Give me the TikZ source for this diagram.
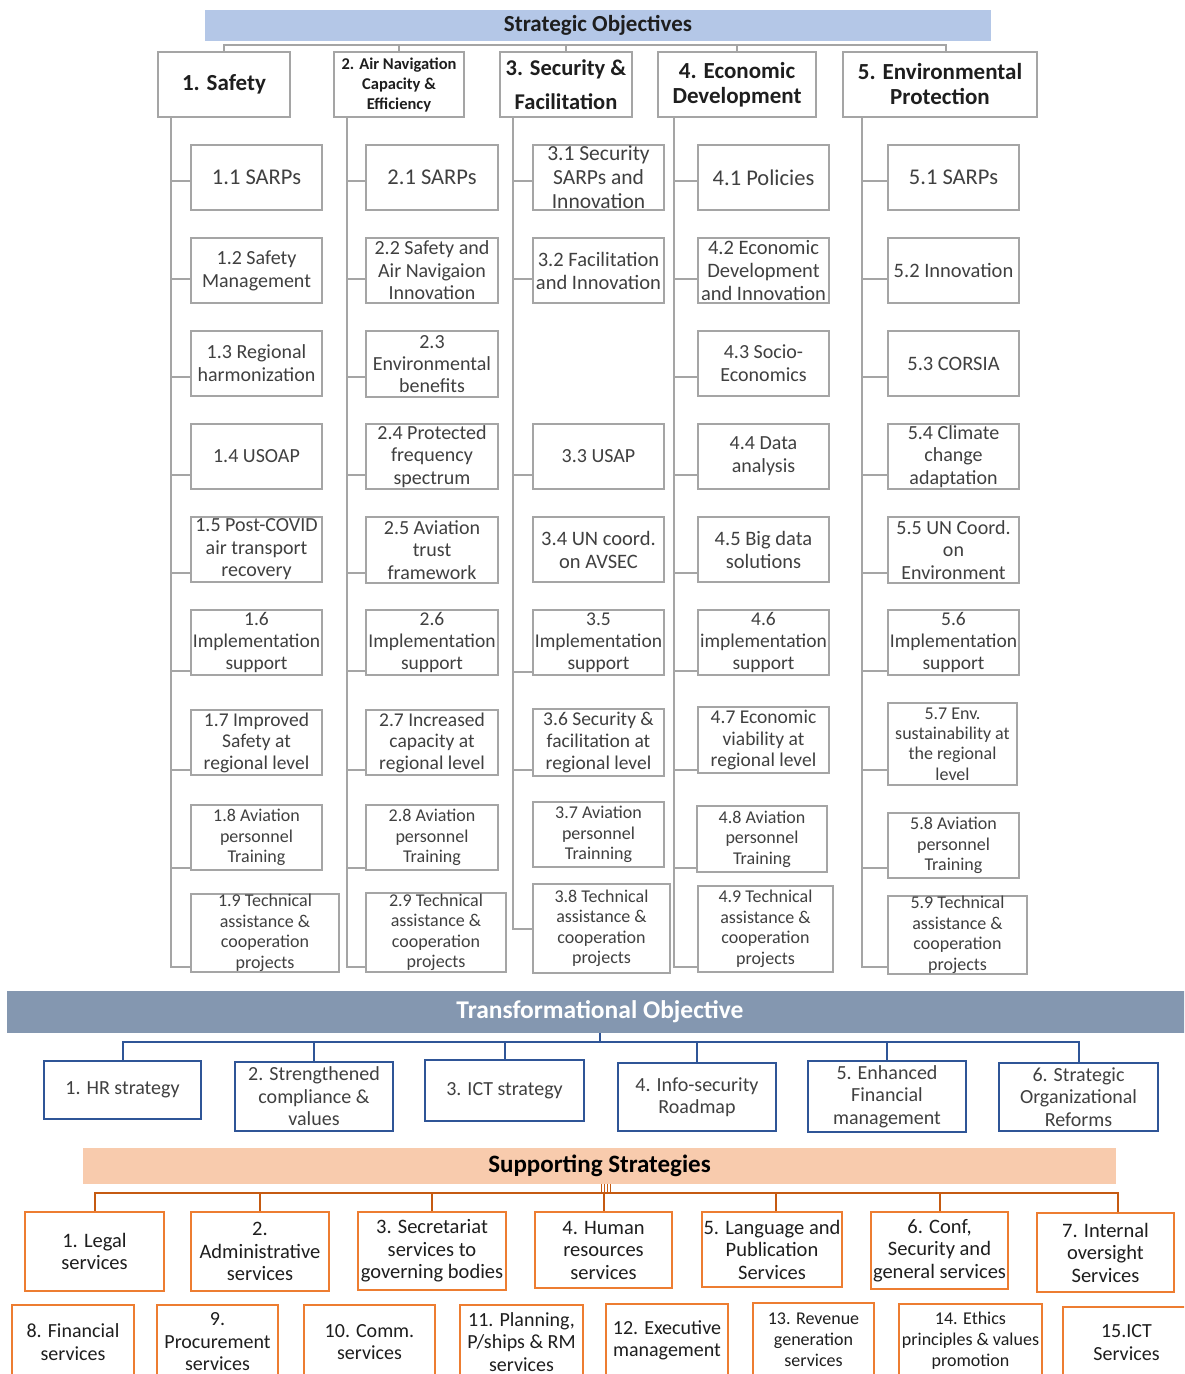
\documentclass[tikz,border=0pt]{standalone}
\usepackage{fontspec}
\setmainfont{Carlito}
\definecolor{gcol}{HTML}{A5A5A5}
\definecolor{gtxt}{HTML}{404040}
\definecolor{hdark}{HTML}{1E1E1E}
\definecolor{sobar}{HTML}{B4C7E7}
\definecolor{tobar}{HTML}{8497B0}
\definecolor{tcol}{HTML}{2F5597}
\definecolor{ssbar}{HTML}{F8CBAD}
\definecolor{ocol}{HTML}{ED7D31}
\definecolor{oline}{HTML}{C55A11}
\newcommand\F[2]{\fontsize{#1}{#2}\selectfont}
% box: style, name, x1, y1, x2, y2, font, text
\newcommand\bx[8][gbox]{%
  \pgfmathsetmacro\bw{#5-#3}\pgfmathsetmacro\bh{#6-#4}%
  \pgfmathsetmacro\bcx{(#3+#5)/2}\pgfmathsetmacro\bcy{(#4+#6)/2}%
  \node[#1, minimum width=\bw pt, minimum height=\bh pt] (#2) at (\bcx,\bcy) {};
  \node[#1txt, align=center, inner sep=0pt, font={#7}] (#2-t) at (#2.center) {#8};}
% branch: box name, spine x, y
\newcommand\br[4][gline]{\coordinate (#2-b) at (#3,#4); \draw[#1] (#2-b) -- (#2-b -| #2.west);}
\tikzset{
  gbox/.style={draw=gcol, line width=2.4pt, fill=white, inner sep=0pt},
  gboxtxt/.style={text=gtxt},
  hbox/.style={draw=gcol, line width=2.6pt, fill=white, inner sep=0pt},
  hboxtxt/.style={text=hdark},
  gline/.style={draw=gcol, line width=2.2pt},
  gthin/.style={draw=gcol, line width=1.2pt},
  sob/.style={fill=sobar, draw=none, inner sep=0pt},
  sobtxt/.style={text=hdark},
  tob/.style={fill=tobar, draw=none, inner sep=0pt},
  tobtxt/.style={text=white},
  tbox/.style={draw=tcol, line width=2.4pt, fill=white, inner sep=0pt},
  tboxtxt/.style={text=gtxt},
  tline/.style={draw=tcol, line width=2pt},
  ssb/.style={fill=ssbar, draw=none, inner sep=0pt},
  ssbtxt/.style={text=black},
  obox/.style={draw=ocol, line width=2.4pt, fill=white, inner sep=0pt},
  oboxtxt/.style={text=hdark},
  oln/.style={draw=oline, line width=2pt},
  othin/.style={draw=oline, line width=0.8pt},
}
\begin{document}
\begin{tikzpicture}[x=1pt,y=-1pt]
\useasboundingbox (0,0) rectangle (1184,1374);
\clip (0,0) rectangle (1184,1374);
\fill[white] (0,0) rectangle (1184,1374);

% ---------- Strategic objectives ----------
\bx[sob]{so}{205}{10}{991}{41}{\F{23}{26}\bfseries}{Strategic Objectives}
\bx[hbox]{c1}{158}{52}{290}{117}{\F{23}{26}\bfseries}{1. Safety}
\bx[hbox]{c2}{334}{52}{464}{117}{\F{16.5}{20}\bfseries}{2. Air Navigation\\Capacity \&\\Efficiency}
\bx[hbox]{c3}{500}{52}{632}{117}{\F{22.5}{34}\bfseries}{3. Security \&\\Facilitation}
\bx[hbox]{c4}{658}{52}{816}{117}{\F{23}{25}\bfseries}{4. Economic\\Development}
\bx[hbox]{c5}{843}{52}{1037}{117}{\F{23}{25}\bfseries}{5. Environmental\\Protection}

\coordinate (hy) at (0,45);
\coordinate (d5) at (946,45);
\draw[gline] (c1.north) -- (c1.north |- hy) -- (d5) -- (d5 |- c5.north);
\draw[gline] (c2.north |- hy) -- (c2.north);
\draw[gline] (c3.north |- hy) -- (c3.north);
\draw[gline] (c4.north |- hy) -- (c4.north);

% Column 1
\bx{s11}{191}{145}{322}{210}{\F{22.5}{24}}{1.1 SARPs}
\bx{s12}{191}{238}{322}{303}{\F{20}{23}}{1.2 Safety\\Management}
\bx{s13}{191}{331}{322}{396}{\F{20}{23}}{1.3 Regional\\harmonization}
\bx{s14}{191}{424}{322}{489}{\F{20}{23}}{1.4 USOAP}
\bx{s15}{191}{517}{322}{582}{\F{20}{22.5}}{1.5 Post-COVID\\air transport\\recovery}
\bx{s16}{191}{610}{322}{675}{\F{19.5}{22}}{1.6\\Implementation\\support}
\bx{s17}{191}{710}{322}{775}{\F{19.5}{21.5}}{1.7 Improved\\Safety at\\regional level}
\bx{s18}{191}{805}{322}{870}{\F{18}{20.5}}{1.8 Aviation\\personnel\\Training}
\bx{s19}{191}{894}{339}{972}{\F{18}{20.5}}{1.9 Technical\\assistance \&\\cooperation\\projects}

% Column 2
\bx{s21}{366}{145}{498}{210}{\F{22.5}{24}}{2.1 SARPs}
\bx{s22}{366}{238}{498}{303}{\F{20}{22.5}}{2.2 Safety and\\Air Navigaion\\Innovation}
\bx{s23}{366}{331}{498}{397}{\F{20}{22}}{2.3\\Environmental\\benefits}
\bx{s24}{366}{424}{498}{489}{\F{20}{22.5}}{2.4 Protected\\frequency\\spectrum}
\bx{s25}{366}{517}{498}{583}{\F{20}{22.5}}{2.5 Aviation\\trust\\framework}
\bx{s26}{366}{610}{498}{675}{\F{19.5}{22}}{2.6\\Implementation\\support}
\bx{s27}{366}{710}{498}{775}{\F{19.5}{21.5}}{2.7 Increased\\capacity at\\regional level}
\bx{s28}{366}{805}{498}{870}{\F{18}{20.5}}{2.8 Aviation\\personnel\\Training}
\bx{s29}{366}{893}{506}{972}{\F{18}{20.5}}{2.9 Technical\\assistance \&\\cooperation\\projects}

% Column 3
\bx{s31}{533}{145}{664}{210}{\F{21.5}{24}}{3.1 Security\\SARPs and\\Innovation}
\bx{s32}{533}{238}{664}{303}{\F{20.5}{23}}{3.2 Facilitation\\and Innovation}
\bx{s33}{533}{424}{664}{489}{\F{20}{23}}{3.3 USAP}
\bx{s34}{533}{517}{664}{582}{\F{20.5}{23}}{3.4 UN coord.\\on AVSEC}
\bx{s35}{533}{610}{664}{675}{\F{19.5}{22}}{3.5\\Implementation\\support}
\bx{s36}{533}{709}{664}{776}{\F{19.5}{22}}{3.6 Security \&\\facilitation at\\regional level}
\bx{s37}{533}{802}{664}{867}{\F{18}{20.5}}{3.7 Aviation\\personnel\\Trainning}
\bx{s38}{533}{884}{670}{973}{\F{18}{20.5}}{3.8 Technical\\assistance \&\\cooperation\\projects}

% Column 4
\bx{s41}{698}{145}{829}{210}{\F{22.5}{24}}{4.1 Policies}
\bx{s42}{698}{238}{829}{303}{\F{20.5}{23}}{4.2 Economic\\Development\\and Innovation}
\bx{s43}{698}{331}{829}{396}{\F{20}{23}}{4.3 Socio-\\Economics}
\bx{s44}{698}{424}{829}{489}{\F{20}{23}}{4.4 Data\\analysis}
\bx{s45}{698}{517}{829}{582}{\F{20.5}{23}}{4.5 Big data\\solutions}
\bx{s46}{698}{610}{829}{675}{\F{19.5}{22}}{4.6\\implementation\\support}
\bx{s47}{698}{707}{829}{773}{\F{19.5}{21.5}}{4.7 Economic\\viability at\\regional level}
\bx{s48}{697}{806}{827}{872}{\F{18}{20.5}}{4.8 Aviation\\personnel\\Training}
\bx{s49}{698}{886}{833}{972}{\F{18}{20.5}}{4.9 Technical\\assistance \&\\cooperation\\projects}

% Column 5
\bx{s51}{888}{145}{1019}{210}{\F{22.5}{24}}{5.1 SARPs}
\bx{s52}{888}{238}{1019}{303}{\F{20.5}{23}}{5.2 Innovation}
\bx{s53}{888}{331}{1019}{396}{\F{20.5}{23}}{5.3 CORSIA}
\bx{s54}{888}{424}{1019}{489}{\F{20}{22.5}}{5.4 Climate\\change\\adaptation}
\bx{s55}{888}{517}{1019}{583}{\F{20}{22.5}}{5.5 UN Coord.\\on\\Environment}
\bx{s56}{888}{610}{1019}{675}{\F{19.5}{22}}{5.6\\Implementation\\support}
\bx{s57}{888}{703}{1017}{785}{\F{18}{20.3}}{5.7 Env.\\sustainability at\\the regional\\level}
\bx{s58}{888}{813}{1019}{878}{\F{18}{20.5}}{5.8 Aviation\\personnel\\Training}
\bx{s59}{888}{896}{1027}{974}{\F{18}{20.5}}{5.9 Technical\\assistance \&\\cooperation\\projects}

% spines
\coordinate (e1) at (171,967);
\coordinate (e2) at (347,967);
\coordinate (e3) at (513,929);
\coordinate (e4) at (674,967);
\coordinate (e5) at (862,967);
\draw[gline] (c1.south -| e1) -- (e1) -- (e1 -| s19.west);
\draw[gline] (c2.south -| e2) -- (e2) -- (e2 -| s29.west);
\draw[gline] (c3.south -| e3) -- (e3) -- (e3 -| s38.west);
\draw[gline] (c4.south -| e4) -- (e4) -- (e4 -| s49.west);
\draw[gline] (c5.south -| e5) -- (e5) -- (e5 -| s59.west);

% branches
\br{s11}{171}{181}\br{s12}{171}{279}\br{s13}{171}{377}\br{s14}{171}{475}
\br{s15}{171}{573}\br{s16}{171}{671}\br{s17}{171}{770}\br{s18}{171}{868}
\br{s21}{347}{181}\br{s22}{347}{279}\br{s23}{347}{377}\br{s24}{347}{475}
\br{s25}{347}{573}\br{s26}{347}{671}\br{s27}{347}{770}\br{s28}{347}{868}
\br{s31}{513}{181}\br{s32}{513}{279}\br{s33}{513}{475}
\br[gthin]{s35}{513}{672}\br{s36}{513}{770}
\br{s41}{674}{181}\br{s42}{674}{279}\br{s43}{674}{377}\br{s44}{674}{475}
\br{s45}{674}{573}\br{s46}{674}{671}\br{s47}{674}{770}\br{s48}{674}{868}
\br{s51}{862}{181}\br{s52}{862}{279}\br{s53}{862}{377}\br{s54}{862}{475}
\br{s55}{862}{573}\br{s56}{862}{671}\br{s57}{862}{770}\br{s58}{862}{868}

% ---------- Transformational objective ----------
\bx[tob]{to}{7}{991}{1193}{1033}{\F{25.5}{28}\bfseries}{Transformational Objective}
\bx[tbox]{t1}{44}{1061}{201}{1119}{\F{20}{22.5}}{1. HR strategy}
\bx[tbox]{t2}{235}{1062}{393}{1131}{\F{20}{22.5}}{2. Strengthened\\compliance \&\\values}
\bx[tbox]{t3}{425}{1060}{584}{1121}{\F{20}{22.5}}{3. ICT strategy}
\bx[tbox]{t4}{618}{1063}{776}{1131}{\F{20}{22.5}}{4. Info-security\\Roadmap}
\bx[tbox]{t5}{808}{1061}{966}{1132}{\F{20}{22.5}}{5. Enhanced\\Financial\\management}
\bx[tbox]{t6}{999}{1063}{1158}{1131}{\F{20}{22.5}}{6. Strategic\\Organizational\\Reforms}
\coordinate (tj) at (600,1042);
\draw[tline] (to.south -| tj) -- (tj);
\draw[tline] (t1.north) -- (t1.north |- tj) -- (tj -| t6.north) -- (t6.north);
\foreach \t in {t2,t3,t4,t5} \draw[tline] (\t.north |- tj) -- (\t.north);

% ---------- Supporting strategies ----------
\bx[ssb]{ss}{83}{1148}{1116}{1184}{\F{25}{27}\bfseries}{Supporting Strategies}
\bx[obox]{o1}{25}{1212}{164}{1291}{\F{20.5}{22.5}}{1. Legal\\services}
\bx[obox]{o2}{191}{1212}{329}{1291}{\F{20.5}{22.5}}{2.\\Administrative\\services}
\bx[obox]{o3}{358}{1212}{506}{1290}{\F{20.5}{22.5}}{3. Secretariat\\services to\\governing bodies}
\bx[obox]{o4}{535}{1212}{672}{1288}{\F{20.5}{22.5}}{4. Human\\resources\\services}
\bx[obox]{o5}{702}{1212}{842}{1287}{\F{20.5}{22.5}}{5. Language and\\Publication\\Services}
\bx[obox]{o6}{871}{1212}{1008}{1289}{\F{20.5}{22.5}}{6. Conf,\\Security and\\general services}
\bx[obox]{o7}{1037}{1213}{1174}{1292}{\F{20.5}{22.5}}{7. Internal\\oversight\\Services}
\bx[obox]{o8}{12}{1305}{134}{1379}{\F{20}{22.5}}{8. Financial\\services}
\bx[obox]{o9}{157}{1305}{278}{1379}{\F{20}{22.5}}{9.\\Procurement\\services}
\bx[obox]{o10}{304}{1305}{435}{1379}{\F{20}{22.5}}{10. Comm.\\services}
\bx[obox]{o11}{460}{1305}{583}{1379}{\F{20}{22.5}}{11. Planning,\\P/ships \& RM\\services}
\bx[obox]{o12}{606}{1304}{728}{1377}{\F{20}{22.5}}{12. Executive\\management}
\bx[obox]{o13}{753}{1303}{874}{1376}{\F{18}{21}}{13. Revenue\\generation\\services}
\bx[obox]{o14}{899}{1304}{1042}{1377}{\F{18}{21}}{14. Ethics\\principles \& values\\promotion}
\bx[obox]{o15}{1063}{1307}{1190}{1378}{\F{20}{22.5}}{15.ICT\\Services}

\coordinate (sj) at (604,1193);
\foreach \xx in {601,604,607,610} \draw[othin] (ss.south -| \xx,0) -- (\xx,1193);
\coordinate (sd5) at (776,1193);
\coordinate (sd6) at (940,1193);
\coordinate (sd7) at (1118,1193);
\draw[oln] (o1.north) -- (o1.north |- sj) -- (sd7) -- (sd7 |- o7.north);
\draw[oln] (o2.north |- sj) -- (o2.north);
\draw[oln] (o3.north |- sj) -- (o3.north);
\draw[oln] (o4.north |- sj) -- (o4.north);
\draw[oln] (sd5) -- (sd5 |- o5.north);
\draw[oln] (sd6) -- (sd6 |- o6.north);
\end{tikzpicture}
\end{document}
